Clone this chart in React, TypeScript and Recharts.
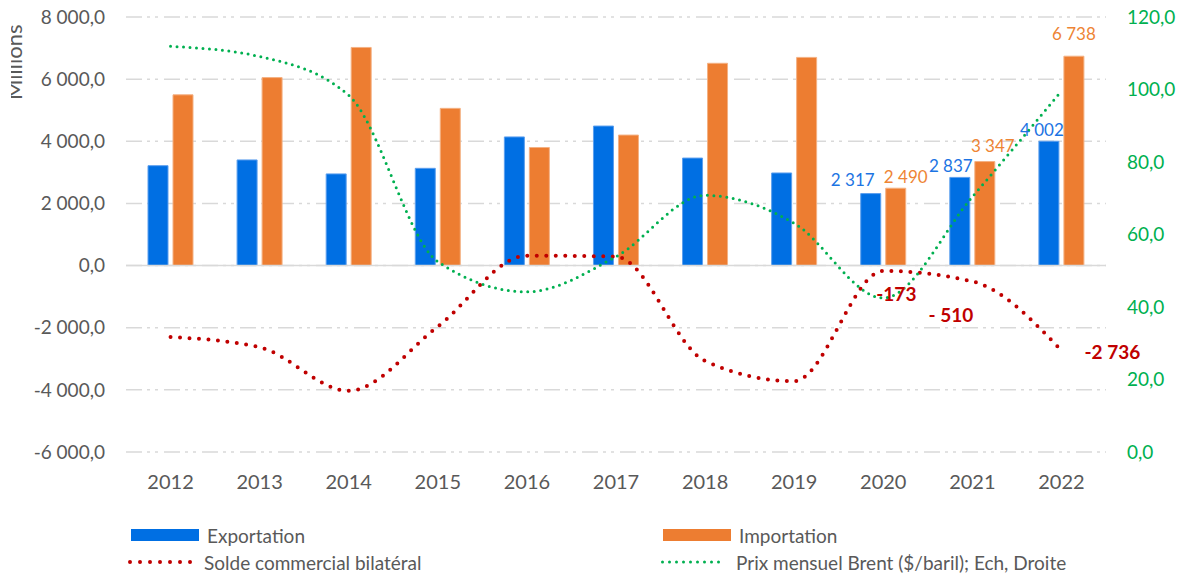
import {
  ComposedChart,
  Bar,
  Line,
  XAxis,
  YAxis,
  CartesianGrid,
  ReferenceLine,
  LabelList,
} from 'recharts';

const years = ['2012', '2013', '2014', '2015', '2016', '2017', '2018', '2019', '2020', '2021', '2022'];
const exportation = [3215, 3400, 2950, 3130, 4140, 4490, 3460, 2980, 2317, 2837, 4002];
const importation = [5495, 6050, 7020, 5060, 3800, 4200, 6510, 6700, 2490, 3347, 6738];
const solde = [-2300, -2630, -4030, -1960, 320, 290, -3070, -3720, -173, -510, -2736];
const brent = [111.9, 109.1, 98.4, 52.5, 44.2, 53.9, 70.8, 63.1, 42.5, 70.4, 99.6];

const labelledYears = ['2020', '2021', '2022'];
const soldeLabels = ['', '', '', '', '', '', '', '', '-173', '- 510', '-2 736'];

const leftTicks = [-6000, -4000, -2000, 0, 2000, 4000, 6000, 8000];
const rightTicks = [0, 20, 40, 60, 80, 100, 120];

const GREY = '#595959';
const BLUE = '#006FE3';
const ORANGE = '#ED7D31';
const RED = '#C00000';
const GREEN = '#00B050';

function fmt(v: number, digits: number) {
  const s = Math.abs(v).toFixed(digits);
  const [int, dec] = s.split('.');
  const grouped = int.replace(/\B(?=(\d{3})+(?!\d))/g, ' ');
  return (v < 0 ? '-' : '') + grouped + (dec ? ',' + dec : '');
}

const rows = years.map((year, i) => ({
  year,
  exportation: exportation[i],
  importation: importation[i],
  solde: solde[i],
  brent: brent[i],
  exportLabel: labelledYears.includes(year) ? fmt(exportation[i], 0) : '',
  importLabel: labelledYears.includes(year) ? fmt(importation[i], 0) : '',
  soldeLabel: soldeLabels[i],
}));

type Off = { dx: number; dy: number; anchor?: 'start' | 'end' | 'middle' };

// labels were moved by hand in the original sheet
const exportOffsets: Record<string, Off> = {
  '2020': { dx: -18, dy: -14 },
  '2021': { dx: -9, dy: -12 },
  '2022': { dx: -7, dy: -12 },
};
const importOffsets: Record<string, Off> = {
  '2020': { dx: 10, dy: -12 },
  '2021': { dx: 8, dy: -16 },
  '2022': { dx: 0, dy: -23 },
};
const soldeOffsets: Record<string, Off> = {
  '2020': { dx: -7, dy: 23, anchor: 'start' },
  '2021': { dx: 1, dy: 33, anchor: 'end' },
  '2022': { dx: 23, dy: 1, anchor: 'start' },
};

const barLabel = (color: string, offsets: Record<string, Off>) => (props: any) => {
  const { x, y, width, value, index } = props;
  if (!value) return null;
  const off = offsets[years[index]] || { dx: 0, dy: -14 };
  return (
    <text
      x={Number(x) + Number(width) / 2 + off.dx}
      y={Number(y) + off.dy}
      fill={color}
      fontSize={17}
      textAnchor="middle"
      dominantBaseline="central"
    >
      {value}
    </text>
  );
};

const soldeLabel = (props: any) => {
  const { x, y, value, index } = props;
  if (!value) return null;
  const off = soldeOffsets[years[index]] || { dx: 0, dy: 0, anchor: 'start' };
  return (
    <text
      x={Number(x) + off.dx}
      y={Number(y) + off.dy}
      fill={RED}
      fontSize={19}
      fontWeight="bold"
      textAnchor={off.anchor}
      dominantBaseline="central"
    >
      {value}
    </text>
  );
};

function LegendRow({ top, items }: { top: number; items: { left: number; label: string; swatch: JSX.Element }[] }) {
  return (
    <>
      {items.map((it) => (
        <div
          key={it.label}
          style={{ position: 'absolute', left: it.left, top, height: 24, display: 'flex', alignItems: 'center' }}
        >
          {it.swatch}
          <span style={{ marginLeft: 8, fontSize: 19, color: GREY, whiteSpace: 'nowrap' }}>{it.label}</span>
        </div>
      ))}
    </>
  );
}

const dotted = (color: string, width: number, gap: number, len: number) => (
  <svg width={len + width} height={12}>
    <line
      x1={width / 2}
      x2={len}
      y1={6}
      y2={6}
      stroke={color}
      strokeWidth={width}
      strokeDasharray={`0 ${gap}`}
      strokeLinecap="round"
    />
  </svg>
);

export default function App() {
  return (
    <div style={{ position: 'absolute', left: 0, top: 0, width: 1184, height: 577, fontFamily: 'Lato', background: '#fff' }}>
      <ComposedChart
        width={1184}
        height={577}
        data={rows}
        margin={{ top: 17, right: 0, bottom: 80, left: 0 }}
        barGap={5}
      >
        <CartesianGrid
          vertical={false}
          yAxisId="left"
          stroke="#D9D9D9"
          strokeWidth={1.5}
          strokeDasharray="16 5 3 5 3 6"
        />
        <XAxis
          dataKey="year"
          axisLine={false}
          tickLine={false}
          tickSize={0}
          tickMargin={23}
          height={45}
          tick={{ fill: GREY, fontSize: 20 }}
        />
        <YAxis
          yAxisId="left"
          domain={[-6000, 8000]}
          ticks={leftTicks}
          width={126}
          axisLine={false}
          tickLine={false}
          tickSize={0}
          tickMargin={21}
          tick={{ fill: GREY, fontSize: 19 }}
          tickFormatter={(v: number) => fmt(v, 1)}
        />
        <YAxis
          yAxisId="right"
          orientation="right"
          domain={[0, 120]}
          ticks={rightTicks}
          width={78}
          axisLine={false}
          tickLine={false}
          tickSize={0}
          tickMargin={21}
          tick={{ fill: GREEN, fontSize: 19 }}
          tickFormatter={(v: number) => fmt(v, 1)}
        />
        <ReferenceLine yAxisId="left" y={0} stroke="#D9D9D9" strokeWidth={1.5} />
        <Bar
          yAxisId="left"
          dataKey="exportation"
          barSize={20}
          fill={BLUE}
          stroke="#5C9FEE"
          strokeWidth={1}
          isAnimationActive={false}
        >
          <LabelList dataKey="exportLabel" content={barLabel('#1C74E3', exportOffsets)} />
        </Bar>
        <Bar
          yAxisId="left"
          dataKey="importation"
          barSize={20}
          fill={ORANGE}
          stroke="#F4B183"
          strokeWidth={1}
          isAnimationActive={false}
        >
          <LabelList dataKey="importLabel" content={barLabel('#EE8434', importOffsets)} />
        </Bar>
        <Line
          yAxisId="left"
          type="monotone"
          dataKey="solde"
          stroke={RED}
          strokeWidth={4}
          strokeDasharray="0 9.5"
          strokeLinecap="round"
          dot={false}
          activeDot={false}
          isAnimationActive={false}
        >
          <LabelList dataKey="soldeLabel" content={soldeLabel} />
        </Line>
        <Line
          yAxisId="right"
          type="monotone"
          dataKey="brent"
          stroke={GREEN}
          strokeWidth={3}
          strokeDasharray="0 6.5"
          strokeLinecap="round"
          dot={false}
          activeDot={false}
          isAnimationActive={false}
        />
      </ComposedChart>

      {/* axis title is cut off on the left in the source image */}
      <svg style={{ position: 'absolute', left: 11, top: 0 }} width={14} height={120}>
        <text transform="translate(11, 100) rotate(-90)" fill={GREY} fontSize={22}>
          Millions
        </text>
      </svg>

      <LegendRow
        top={523}
        items={[
          { left: 131, label: 'Exportation', swatch: <div style={{ width: 68, height: 12, background: BLUE }} /> },
          { left: 663, label: 'Importation', swatch: <div style={{ width: 68, height: 12, background: ORANGE }} /> },
        ]}
      />
      <LegendRow
        top={550}
        items={[
          { left: 128, label: 'Solde commercial bilatéral', swatch: dotted(RED, 4, 10, 64) },
          { left: 661, label: 'Prix mensuel Brent ($/baril); Ech, Droite', swatch: dotted(GREEN, 3, 7, 64) },
        ]}
      />
    </div>
  );
}
